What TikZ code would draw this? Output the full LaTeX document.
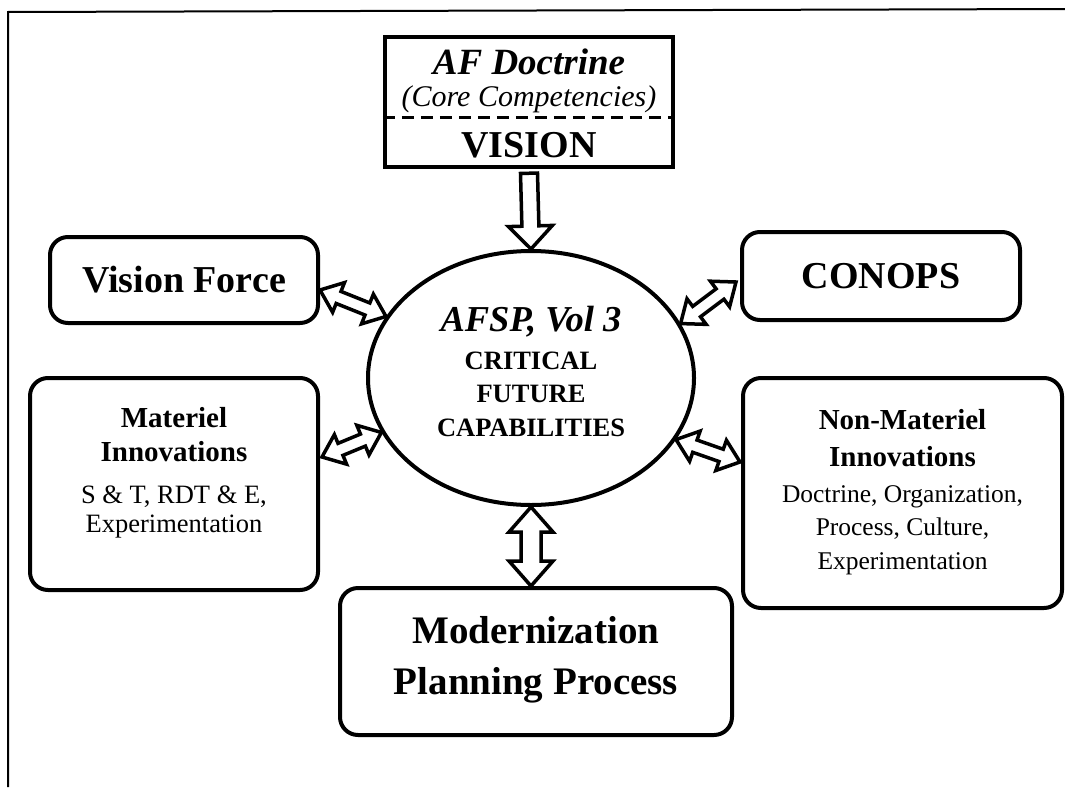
\documentclass[tikz,border=0pt]{standalone}
\usepackage{fontspec}
\setmainfont{Liberation Serif}
\usetikzlibrary{calc,shapes.geometric}

% hollow double-headed arrow: #1 start, #2 end, #3 head length, #4 head half width, #5 shaft half width
\newcommand\hollowdbl[5]{%
  \coordinate (hA) at (#1); \coordinate (hB) at (#2);
  \coordinate (hA1) at ($(hA)!#3!(hB)$);
  \coordinate (hB1) at ($(hB)!#3!(hA)$);
  \draw[arrowline] (hA) -- ($(hA1)!#4!-90:(hB)$) -- ($(hA1)!#5!-90:(hB)$)
    -- ($(hB1)!#5!90:(hA)$) -- ($(hB1)!#4!90:(hA)$) -- (hB)
    -- ($(hB1)!#4!-90:(hA)$) -- ($(hB1)!#5!-90:(hA)$)
    -- ($(hA1)!#5!90:(hB)$) -- ($(hA1)!#4!90:(hB)$) -- cycle;
}
% hollow single-headed arrow, head at #2
\newcommand\hollowsgl[5]{%
  \coordinate (hA) at (#1); \coordinate (hB) at (#2);
  \coordinate (hB1) at ($(hB)!#3!(hA)$);
  \draw[arrowline] ($(hA)!#5!90:(hB)$) -- ($(hB1)!#5!-90:(hA)$) -- ($(hB1)!#4!-90:(hA)$)
    -- (hB) -- ($(hB1)!#4!90:(hA)$) -- ($(hB1)!#5!90:(hA)$) -- ($(hA)!#5!-90:(hB)$) -- cycle;
}

\tikzset{
  box/.style={draw, line width=4pt, rounded corners=18pt, inner sep=0pt},
  arrowline/.style={draw, line width=3.5pt, fill=white, line join=miter},
  txt/.style={inner sep=0pt, align=center},
}

\begin{document}
\begin{tikzpicture}[x=1pt,y=-1pt]
\useasboundingbox (0,0) rectangle (1065,787);

% frame
\draw[line width=2pt] (8,787) -- (8,12) -- (1065,9);

% top box
\node[draw, line width=4.5pt, minimum width=288pt, minimum height=130pt, inner sep=0pt] (top) at (529,102) {};
\draw[line width=3pt, dash pattern=on 12pt off 7pt] ($(top.north west)!0.615!(top.south west)$) -- ($(top.north east)!0.615!(top.south east)$);
\node[txt, font=\bfseries\itshape\fontsize{37}{40}\selectfont] (afd) at (529,62) {AF Doctrine};
\node[txt, font=\itshape\fontsize{30}{33}\selectfont] (core) at (529,99) {(Core Competencies)};
\node[txt, font=\bfseries\fontsize{38}{40}\selectfont] (vis) at (529,145) {VISION};

% central ellipse
\node[draw, ellipse, line width=4pt, minimum width=326pt, minimum height=254pt, inner sep=0pt] (ell) at (531,378) {};
\node[txt, font=\bfseries\itshape\fontsize{36.5}{40}\selectfont] (afsp) at (531,322) {AFSP, Vol 3};
\node[txt, font=\bfseries\fontsize{26.5}{33.5}\selectfont] (cfc) at (531,394) {CRITICAL\\FUTURE\\CAPABILITIES};

% side boxes
\node[box, minimum width=268pt, minimum height=86pt] (vf) at (184,280) {};
\node[txt, font=\bfseries\fontsize{38}{40}\selectfont] (vft) at (vf) {Vision Force};

\node[box, minimum width=278pt, minimum height=88pt] (co) at (881,276) {};
\node[txt, font=\bfseries\fontsize{38}{40}\selectfont] (cot) at (co) {CONOPS};

\node[box, minimum width=288pt, minimum height=212pt] (mat) at (174,484) {};
\node[txt, font=\bfseries\fontsize{29}{34}\selectfont] (matt) at (174,435) {Materiel\\Innovations};
\node[txt, font=\fontsize{26.5}{28.5}\selectfont] (matb) at (174,512) {S \& T, RDT \& E,\\Experimentation};

\node[box, minimum width=319pt, minimum height=230pt] (nm) at (902.5,493) {};
\node[txt, font=\bfseries\fontsize{29}{37}\selectfont] (nmt) at (902.5,438.5) {Non-Materiel\\Innovations};
\node[txt, font=\fontsize{25.5}{33.5}\selectfont] (nmb) at (902.5,530) {Doctrine, Organization,\\Process, Culture,\\Experimentation};

\node[box, minimum width=392pt, minimum height=147pt] (mod) at (536,661.5) {};
\node[txt, font=\bfseries\fontsize{39}{51}\selectfont] (modt) at (536,660) {Modernization\\Planning Process};

% arrows
\hollowsgl{$(top.south)+(0,4)$}{ell.north}{23pt}{22pt}{8.5pt}
\hollowdbl{$(vf.east)+(0,10)$}{ell.157.4}{20pt}{16pt}{6.5pt}
\hollowdbl{$(co.west)+(-4,6)$}{ell.20}{20pt}{16pt}{6.5pt}
\hollowdbl{$(mat.east)+(2,-27)$}{ell.200.8}{20pt}{16pt}{6.5pt}
\hollowdbl{$(nm.west)+(-1,-31)$}{ell.337.7}{20pt}{16pt}{6.5pt}
\hollowdbl{ell.south}{ell.south |- mod.north}{25pt}{22pt}{10pt}
\end{tikzpicture}
\end{document}
